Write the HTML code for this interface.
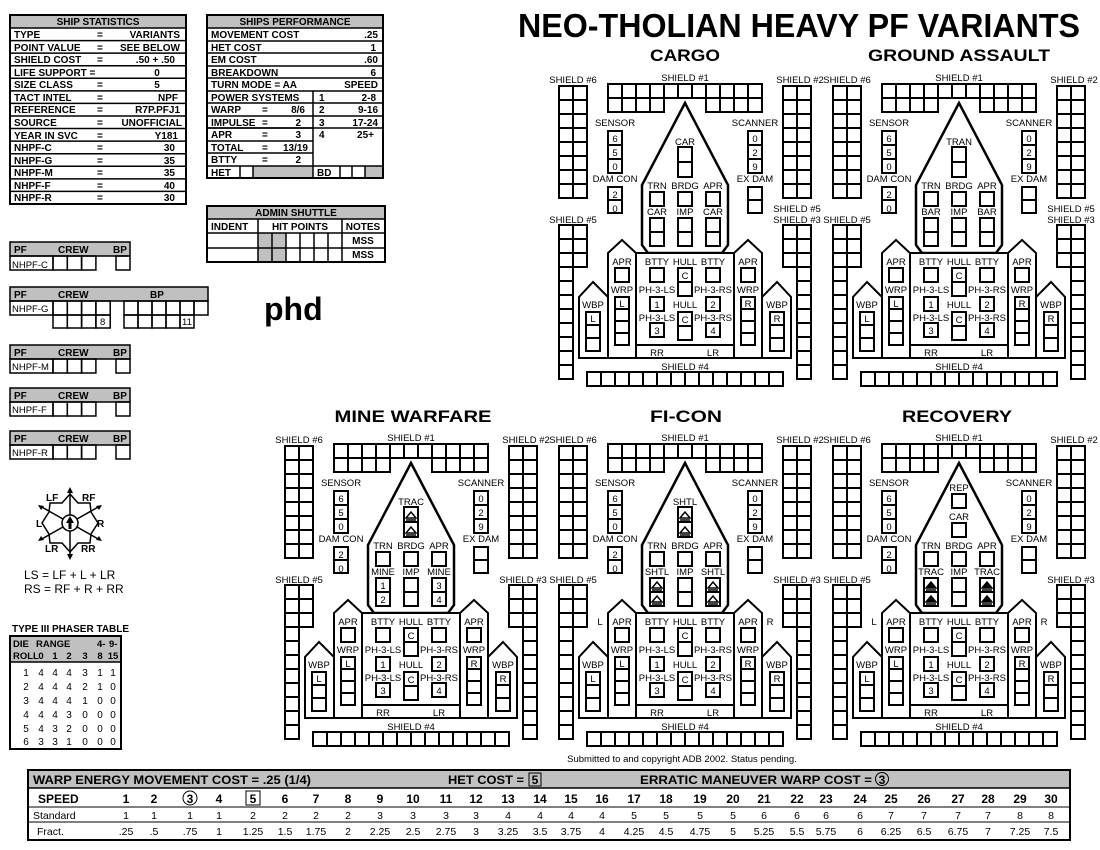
<!DOCTYPE html>
<html><head><meta charset="utf-8">
<style>
html,body{margin:0;padding:0;background:#fff;}
svg{display:block;font-family:"Liberation Sans",sans-serif;}
</style></head><body>
<svg id="s" width="1100" height="850" viewBox="0 0 1100 850" xmlns="http://www.w3.org/2000/svg">
<rect width="1100" height="850" fill="#fff"/>
<g id="tables" font-size="10" font-weight="bold">
<rect x="10" y="15" width="176" height="13" fill="#c0c0c0"/>
<g id="ssl" stroke="#000" stroke-width="1.5"></g>
<text x="98" y="25" text-anchor="middle">SHIP STATISTICS</text>
<g>
<text x="14" y="38">TYPE</text><text x="97" y="38">=</text><text x="180" y="38" text-anchor="end">VARIANTS</text>
<text x="14" y="51">POINT VALUE</text><text x="97" y="51">=</text><text x="180" y="51" text-anchor="end">SEE BELOW</text>
<text x="14" y="63">SHIELD COST</text><text x="97" y="63">=</text><text x="175" y="63" text-anchor="end">.50 + .50</text>
<text x="14" y="76">LIFE SUPPORT =</text><text x="157" y="76" text-anchor="middle">0</text>
<text x="14" y="88">SIZE CLASS</text><text x="97" y="88">=</text><text x="157" y="88" text-anchor="middle">5</text>
<text x="14" y="101">TACT INTEL</text><text x="97" y="101">=</text><text x="178" y="101" text-anchor="end">NPF</text>
<text x="14" y="113">REFERENCE</text><text x="97" y="113">=</text><text x="180" y="113" text-anchor="end">R7P.PFJ1</text>
<text x="14" y="126">SOURCE</text><text x="97" y="126">=</text><text x="182" y="126" text-anchor="end">UNOFFICIAL</text>
<text x="14" y="139">YEAR IN SVC</text><text x="97" y="139">=</text><text x="178" y="139" text-anchor="end">Y181</text>
<text x="14" y="151">NHPF-C</text><text x="97" y="151">=</text><text x="175" y="151" text-anchor="end">30</text>
<text x="14" y="164">NHPF-G</text><text x="97" y="164">=</text><text x="175" y="164" text-anchor="end">35</text>
<text x="14" y="176">NHPF-M</text><text x="97" y="176">=</text><text x="175" y="176" text-anchor="end">35</text>
<text x="14" y="189">NHPF-F</text><text x="97" y="189">=</text><text x="175" y="189" text-anchor="end">40</text>
<text x="14" y="201">NHPF-R</text><text x="97" y="201">=</text><text x="175" y="201" text-anchor="end">30</text>
</g>
<rect x="207" y="15" width="176" height="13" fill="#c0c0c0"/>
<rect x="253" y="166" width="60" height="12" fill="#c0c0c0"/>
<rect x="365" y="166" width="18" height="12" fill="#c0c0c0"/>
<g id="spl" stroke="#000" stroke-width="1.5"></g>
<text x="295" y="25" text-anchor="middle">SHIPS PERFORMANCE</text>
<text x="211" y="38">MOVEMENT COST</text><text x="378" y="38" text-anchor="end">.25</text>
<text x="211" y="51">HET COST</text><text x="376" y="51" text-anchor="end">1</text>
<text x="211" y="63">EM COST</text><text x="378" y="63" text-anchor="end">.60</text>
<text x="211" y="76">BREAKDOWN</text><text x="376" y="76" text-anchor="end">6</text>
<text x="211" y="88">TURN MODE = AA</text><text x="378" y="88" text-anchor="end">SPEED</text>
<text x="211" y="101">POWER SYSTEMS</text><text x="319" y="101">1</text><text x="376" y="101" text-anchor="end">2-8</text>
<text x="211" y="113">WARP</text><text x="262" y="113">=</text><text x="305" y="113" text-anchor="end">8/6</text><text x="319" y="113">2</text><text x="378" y="113" text-anchor="end">9-16</text>
<text x="211" y="126">IMPULSE</text><text x="262" y="126">=</text><text x="301" y="126" text-anchor="end">2</text><text x="319" y="126">3</text><text x="378" y="126" text-anchor="end">17-24</text>
<text x="211" y="138">APR</text><text x="262" y="138">=</text><text x="301" y="138" text-anchor="end">3</text><text x="319" y="138">4</text><text x="374" y="138" text-anchor="end">25+</text>
<text x="211" y="151">TOTAL</text><text x="262" y="151">=</text><text x="308" y="151" text-anchor="end">13/19</text>
<text x="211" y="163">BTTY</text><text x="262" y="163">=</text><text x="301" y="163" text-anchor="end">2</text>
<text x="211" y="176">HET</text><text x="317" y="176">BD</text>
<rect x="207" y="206" width="178" height="13" fill="#c0c0c0"/>
<rect x="258" y="233" width="28" height="29" fill="#c0c0c0"/>
<g id="asl" stroke="#000" stroke-width="1.5"></g>
<text x="296" y="216" text-anchor="middle">ADMIN SHUTTLE</text>
<text x="211" y="230">INDENT</text><text x="300" y="230" text-anchor="middle">HIT POINTS</text><text x="363" y="230" text-anchor="middle">NOTES</text>
<text x="363" y="244" text-anchor="middle">MSS</text><text x="363" y="258" text-anchor="middle">MSS</text>
<g id="pfl"></g>
<text x="14" y="253">PF</text><text x="58" y="253">CREW</text><text x="113" y="253">BP</text>
<text x="14" y="298">PF</text><text x="58" y="298">CREW</text><text x="150" y="298">BP</text>
<text x="14" y="356">PF</text><text x="58" y="356">CREW</text><text x="113" y="356">BP</text>
<text x="14" y="399">PF</text><text x="58" y="399">CREW</text><text x="113" y="399">BP</text>
<text x="14" y="442">PF</text><text x="58" y="442">CREW</text><text x="113" y="442">BP</text>
<g font-weight="normal" font-size="9.5">
<text x="12" y="268">NHPF-C</text><text x="12" y="312">NHPF-G</text><text x="12" y="370">NHPF-M</text><text x="12" y="413">NHPF-F</text><text x="12" y="456">NHPF-R</text>
<text x="100" y="325">8</text><text x="182" y="325">11</text>
</g>
</g>
<text x="264" y="320" font-size="32" font-weight="bold">phd</text>

<g stroke="#000" stroke-width="1.5" fill="none">
<polygon points="70,494 78,503 90,503 91,512 98,523 91,534 90,543 78,543 70,552 62,543 50,543 49,534 42,523 49,512 50,503 62,503"/>
<line x1="70" y1="489" x2="70" y2="558"/><line x1="40" y1="506" x2="100" y2="540"/><line x1="100" y1="506" x2="40" y2="540"/>
<circle cx="70" cy="523" r="8" fill="#fff"/>
</g>
<g fill="#000"><polygon points="70,487 67,493 73,493"/><polygon points="70,560 67,554 73,554"/><polygon points="70,516 66,523 74,523"/><rect x="68.5" y="522" width="3" height="7"/>
<polygon points="102,505 96,506 99,510"/><polygon points="38,505 44,506 41,510"/><polygon points="102,541 96,540 99,536"/><polygon points="38,541 44,540 41,536"/></g>
<g font-size="10" font-weight="bold">
<text x="46" y="501">LF</text><text x="82" y="501">RF</text><text x="36" y="527">L</text><text x="97" y="527">R</text><text x="45" y="552">LR</text><text x="81" y="552">RR</text>
</g>
<text x="24" y="579" font-size="12">LS = LF + L + LR</text>
<text x="24" y="593" font-size="12">RS = RF + R + RR</text>

<text x="12" y="632" font-size="10" font-weight="bold">TYPE III PHASER TABLE</text>
<rect x="10" y="636" width="111" height="26" fill="#c0c0c0"/>
<rect x="10" y="636" width="111" height="113" fill="none" stroke="#000" stroke-width="2"/>
<line x1="10" y1="662" x2="121" y2="662" stroke="#000" stroke-width="1.5"/>
<g font-size="9.5" font-weight="bold">
<text x="13" y="647">DIE</text><text x="36" y="647">RANGE</text><text x="97" y="647">4-</text><text x="109" y="647">9-</text>
<text x="13" y="659">ROLL</text><text x="41" y="659" text-anchor="middle">0</text><text x="55" y="659" text-anchor="middle">1</text><text x="69" y="659" text-anchor="middle">2</text><text x="85" y="659" text-anchor="middle">3</text><text x="100" y="659" text-anchor="middle">8</text><text x="113" y="659" text-anchor="middle">15</text>
</g>
<g font-size="10" text-anchor="middle">
<text y="676"><tspan x="26">1</tspan><tspan x="41">4</tspan><tspan x="55">4</tspan><tspan x="69">4</tspan><tspan x="85">3</tspan><tspan x="100">1</tspan><tspan x="113">1</tspan></text>
<text y="690"><tspan x="26">2</tspan><tspan x="41">4</tspan><tspan x="55">4</tspan><tspan x="69">4</tspan><tspan x="85">2</tspan><tspan x="100">1</tspan><tspan x="113">0</tspan></text>
<text y="704"><tspan x="26">3</tspan><tspan x="41">4</tspan><tspan x="55">4</tspan><tspan x="69">4</tspan><tspan x="85">1</tspan><tspan x="100">0</tspan><tspan x="113">0</tspan></text>
<text y="718"><tspan x="26">4</tspan><tspan x="41">4</tspan><tspan x="55">4</tspan><tspan x="69">3</tspan><tspan x="85">0</tspan><tspan x="100">0</tspan><tspan x="113">0</tspan></text>
<text y="732"><tspan x="26">5</tspan><tspan x="41">4</tspan><tspan x="55">3</tspan><tspan x="69">2</tspan><tspan x="85">0</tspan><tspan x="100">0</tspan><tspan x="113">0</tspan></text>
<text y="745"><tspan x="26">6</tspan><tspan x="41">3</tspan><tspan x="55">3</tspan><tspan x="69">1</tspan><tspan x="85">0</tspan><tspan x="100">0</tspan><tspan x="113">0</tspan></text>
</g>

<text x="799" y="37" text-anchor="middle" font-size="33" font-weight="bold" textLength="562" lengthAdjust="spacingAndGlyphs">NEO-THOLIAN HEAVY PF VARIANTS</text>
<g font-size="17" font-weight="bold" text-anchor="middle">
<text x="685" y="61" textLength="70" lengthAdjust="spacingAndGlyphs">CARGO</text>
<text x="959" y="61" textLength="182" lengthAdjust="spacingAndGlyphs">GROUND ASSAULT</text>
<text x="413" y="422" textLength="157" lengthAdjust="spacingAndGlyphs">MINE WARFARE</text>
<text x="686" y="422" textLength="72" lengthAdjust="spacingAndGlyphs">FI-CON</text>
<text x="957" y="422" textLength="110" lengthAdjust="spacingAndGlyphs">RECOVERY</text>
</g>

<g id="ship0" transform="translate(0,0)" font-size="9.5">
<g id="common" text-anchor="middle">
<text x="573" y="83">SHIELD #6</text><text x="685" y="81">SHIELD #1</text><text x="800" y="83">SHIELD #2</text>
<text x="573" y="223">SHIELD #5</text><text x="797" y="223">SHIELD #3</text><text x="685" y="370">SHIELD #4</text>
<text x="615" y="126">SENSOR</text><text x="615" y="182">DAM CON</text><text x="755" y="126">SCANNER</text><text x="755" y="182">EX DAM</text>
<text x="615" y="142">6</text><text x="615" y="156">5</text><text x="615" y="170">0</text>
<text x="615" y="198">2</text><text x="615" y="212">0</text>
<text x="755" y="142">0</text><text x="755" y="156">2</text><text x="755" y="170">9</text>
<text x="657" y="189">TRN</text><text x="685" y="189">BRDG</text><text x="713" y="189">APR</text>
<text x="657" y="265">BTTY</text><text x="685" y="265">HULL</text><text x="713" y="265">BTTY</text><text x="685" y="279">C</text>
<text x="657" y="293">PH-3-LS</text><text x="713" y="293">PH-3-RS</text><text x="657" y="308">1</text><text x="713" y="308">2</text>
<text x="685" y="308">HULL</text><text x="685" y="323">C</text>
<text x="657" y="321">PH-3-LS</text><text x="713" y="321">PH-3-RS</text><text x="657" y="334">3</text><text x="713" y="334">4</text>
<text x="657" y="356">RR</text><text x="713" y="356">LR</text>
<text x="622" y="265">APR</text><text x="748" y="265">APR</text><text x="622" y="293">WRP</text><text x="748" y="293">WRP</text>
<text x="622" y="307">L</text><text x="748" y="307">R</text>
<text x="593" y="308">WBP</text><text x="777" y="308">WBP</text><text x="593" y="322">L</text><text x="777" y="322">R</text>
</g>
<g text-anchor="middle"><text x="797" y="212">SHIELD #5</text><text x="685" y="145">CAR</text><text x="657" y="215">CAR</text><text x="685" y="215">IMP</text><text x="713" y="215">CAR</text></g>
</g>
<g id="ship1" transform="translate(274,0)" font-size="9.5" text-anchor="middle">
<text x="797" y="212">SHIELD #5</text><text x="685" y="145">TRAN</text><text x="657" y="215">BAR</text><text x="685" y="215">IMP</text><text x="713" y="215">BAR</text>
</g>
<g id="ship2" transform="translate(-274,360)" font-size="9.5" text-anchor="middle">
<text x="685" y="145">TRAC</text><text x="657" y="215">MINE</text><text x="685" y="215">IMP</text><text x="713" y="215">MINE</text>
<text x="657" y="229">1</text><text x="657" y="243">2</text><text x="713" y="229">3</text><text x="713" y="243">4</text>
</g>
<g id="ship3" transform="translate(0,360)" font-size="9.5" text-anchor="middle">
<text x="685" y="145">SHTL</text><text x="657" y="215">SHTL</text><text x="685" y="215">IMP</text><text x="713" y="215">SHTL</text>
<text x="600" y="265">L</text><text x="770" y="265">R</text>
</g>
<g id="ship4" transform="translate(274,360)" font-size="9.5" text-anchor="middle">
<text x="685" y="131">REP</text><text x="685" y="160">CAR</text><text x="657" y="215">TRAC</text><text x="685" y="215">IMP</text><text x="713" y="215">TRAC</text>
<text x="600" y="265">L</text><text x="770" y="265">R</text>
</g>

<text x="682" y="762" font-size="9.5" text-anchor="middle">Submitted to and copyright ADB 2002. Status pending.</text>

<rect x="28" y="770" width="1042" height="18" fill="#c0c0c0"/>
<g id="btl" stroke="#000"></g>
<g font-size="12" font-weight="bold">
<text x="33" y="784" textLength="278" lengthAdjust="spacingAndGlyphs">WARP ENERGY MOVEMENT COST = .25  (1/4)</text>
<text x="448" y="784" textLength="76" lengthAdjust="spacingAndGlyphs">HET COST = </text><rect x="529" y="773" width="12" height="13" fill="none" stroke="#000"/><text x="535" y="784" text-anchor="middle">5</text>
<text x="640" y="784" textLength="232" lengthAdjust="spacingAndGlyphs">ERRATIC MANEUVER WARP COST =</text><circle cx="882" cy="779" r="6.5" fill="none" stroke="#000"/><text x="882" y="784" text-anchor="middle">3</text>
<text x="38" y="803">SPEED</text>
</g>
<g font-size="12" font-weight="bold" text-anchor="middle"><text y="803"><tspan x="126">1</tspan><tspan x="154">2</tspan><tspan x="190">3</tspan><tspan x="219">4</tspan><tspan x="253">5</tspan><tspan x="285">6</tspan><tspan x="316">7</tspan><tspan x="348">8</tspan><tspan x="380">9</tspan><tspan x="413">10</tspan><tspan x="446">11</tspan><tspan x="476">12</tspan><tspan x="508">13</tspan><tspan x="540">14</tspan><tspan x="571">15</tspan><tspan x="602">16</tspan><tspan x="634">17</tspan><tspan x="666">18</tspan><tspan x="700">19</tspan><tspan x="733">20</tspan><tspan x="764">21</tspan><tspan x="797">22</tspan><tspan x="826">23</tspan><tspan x="860">24</tspan><tspan x="891">25</tspan><tspan x="924">26</tspan><tspan x="958">27</tspan><tspan x="988">28</tspan><tspan x="1020">29</tspan><tspan x="1051">30</tspan></text></g>
<circle cx="190" cy="798" r="7" fill="none" stroke="#000"/><rect x="246" y="791" width="14" height="14" fill="none" stroke="#000"/>
<g font-size="10.5" text-anchor="middle">
<text x="33" y="819" text-anchor="start">Standard</text>
<text y="819"><tspan x="126">1</tspan><tspan x="154">1</tspan><tspan x="190">1</tspan><tspan x="219">1</tspan><tspan x="253">2</tspan><tspan x="285">2</tspan><tspan x="316">2</tspan><tspan x="348">2</tspan><tspan x="380">3</tspan><tspan x="413">3</tspan><tspan x="446">3</tspan><tspan x="476">3</tspan><tspan x="508">4</tspan><tspan x="540">4</tspan><tspan x="571">4</tspan><tspan x="602">4</tspan><tspan x="634">5</tspan><tspan x="666">5</tspan><tspan x="700">5</tspan><tspan x="733">5</tspan><tspan x="764">6</tspan><tspan x="797">6</tspan><tspan x="826">6</tspan><tspan x="860">6</tspan><tspan x="891">7</tspan><tspan x="924">7</tspan><tspan x="958">7</tspan><tspan x="988">7</tspan><tspan x="1020">8</tspan><tspan x="1051">8</tspan></text>
<text x="37" y="835" text-anchor="start">Fract.</text>
<text y="835"><tspan x="126">.25</tspan><tspan x="154">.5</tspan><tspan x="190">.75</tspan><tspan x="219">1</tspan><tspan x="253">1.25</tspan><tspan x="285">1.5</tspan><tspan x="316">1.75</tspan><tspan x="348">2</tspan><tspan x="380">2.25</tspan><tspan x="413">2.5</tspan><tspan x="446">2.75</tspan><tspan x="476">3</tspan><tspan x="508">3.25</tspan><tspan x="540">3.5</tspan><tspan x="571">3.75</tspan><tspan x="602">4</tspan><tspan x="634">4.25</tspan><tspan x="666">4.5</tspan><tspan x="700">4.75</tspan><tspan x="733">5</tspan><tspan x="764">5.25</tspan><tspan x="797">5.5</tspan><tspan x="826">5.75</tspan><tspan x="860">6</tspan><tspan x="891">6.25</tspan><tspan x="924">6.5</tspan><tspan x="958">6.75</tspan><tspan x="988">7</tspan><tspan x="1020">7.25</tspan><tspan x="1051">7.5</tspan></text>
</g>
</svg>
<script>
(function(){
var NS="http://www.w3.org/2000/svg";
function el(p,t,a){var e=document.createElementNS(NS,t);for(var k in a)e.setAttribute(k,a[k]);p.appendChild(e);return e;}
function L(p,x1,y1,x2,y2,w){el(p,"line",{x1:x1,y1:y1,x2:x2,y2:y2,stroke:"#000","stroke-width":w||1.5});}
function B(p,x,y,w,h,sw,f){el(p,"rect",{x:x,y:y,width:w,height:h,fill:f||"none",stroke:"#000","stroke-width":sw||1.5});}
var g=document.getElementById("ssl");
B(g,10,15,176,189,2);
for(var i=0;i<14;i++){var y=28+12.57*i;L(g,10,y,186,y);}
g=document.getElementById("spl");
B(g,207,15,176,163,2);
[28,41,53,66,78,91,103,116,128,141,153,166].forEach(function(y){L(g,207,y,y>=128&&y<=153?313:383,y);});
L(g,207,128,383,128);L(g,313,91,313,178);
L(g,240,166,240,178);L(g,253,166,253,178);L(g,340,166,340,178);L(g,352,166,352,178);L(g,365,166,365,178);
g=document.getElementById("asl");
B(g,207,206,178,56,2);
[219,233,248].forEach(function(y){L(g,207,y,385,y);});
L(g,258,219,258,262);L(g,342,219,342,262);
for(i=1;i<6;i++){L(g,258+14*i,233,258+14*i,262);}
g=document.getElementById("pfl");
function pf(y,big){
 var w=big?198:120;
 B(g,10,y,w,14,1.5,"#c0c0c0");
 B(g,10,y+14,43,14,1.5);
 var n=big?4:3;
 for(var i=0;i<n;i++)B(g,53+14.3*i,y+14,14.3,14,1.5);
 if(big){for(i=0;i<6;i++)B(g,124+14*i,y+14,14,14,1.5);
  for(i=0;i<4;i++)B(g,53+14.3*i,y+28,14.3,13,1.5);
  for(i=0;i<5;i++)B(g,124+14*i,y+28,14,13,1.5);}
 else B(g,116,y+14,14,14,1.5);
}
pf(242,0);pf(287,1);pf(345,0);pf(388,0);pf(431,0);
g=document.getElementById("btl");
B(g,28,770,1042,70,2);
L(g,28,788,1070,788);L(g,28,807,1070,807,1);L(g,28,822,1070,822,1);
function arrowO(p,cx,cy,fill){
 el(p,"polygon",{points:(cx-5)+","+(cy+2)+" "+cx+","+(cy-4)+" "+(cx+5)+","+(cy+2),fill:fill?"#000":"none",stroke:"#000","stroke-width":1.5});
 L(p,cx-5,cy+4,cx+5,cy+4,1.5);
}
function ship(id,v){
 var p=document.getElementById(id);
 var s=el(p,"g",{});
 p.insertBefore(s,p.firstChild);
 var i,r,c;
 for(r=0;r<8;r++)for(c=0;c<2;c++){B(s,559+14*c,86+14*r,14,14,2);B(s,783+14*c,86+14*r,14,14,2);}
 for(i=0;i<11;i++){B(s,608+14*i,84,14,14,2);if(i<4||i>6)B(s,608+14*i,98,14,14,2);}
 for(r=0;r<11;r++){B(s,559,225+14*r,14,14,2);B(s,797,225+14*r,14,14,2);if(r<3){B(s,573,225+14*r,14,14,2);B(s,783,225+14*r,14,14,2);}}
 for(i=0;i<14;i++)B(s,587+14*i,372,14,14,2);
 for(i=0;i<3;i++){B(s,608,131+14*i,14,14,2);B(s,748,131+14*i,14,14,2);}
 for(i=0;i<2;i++){B(s,608,187+13*i,14,13,2);B(s,748,187+13*i,14,13,2);}
 el(s,"polygon",{points:"685,103 728,185 728,245 722,253 648,253 642,245 642,185",fill:"none",stroke:"#000","stroke-width":2.5});
 B(s,636,253,98,92,2,"#fff");
 el(s,"polygon",{points:"608,358 608,253 622,240 636,253 636,358",fill:"#fff",stroke:"#000","stroke-width":2});
 el(s,"polygon",{points:"734,358 734,253 748,240 762,253 762,358",fill:"#fff",stroke:"#000","stroke-width":2});
 el(s,"polygon",{points:"579,358 579,297 593,282 608,297 608,358",fill:"#fff",stroke:"#000","stroke-width":2});
 el(s,"polygon",{points:"762,358 762,297 777,282 791,297 791,358",fill:"#fff",stroke:"#000","stroke-width":2});
 L(s,636,358,734,358,2);
 if(v==4){B(s,678,134,14,14,2);B(s,678,163,14,14,2);}
 else{B(s,678,147,14,15,2);B(s,678,162,14,15,2);}
 [650,678,706].forEach(function(x){B(s,x,192,14,14,2);B(s,x,218,14,14,2);B(s,x,232,14,14,2);});
 B(s,650,268,14,14,2);B(s,706,268,14,14,2);B(s,678,268,14,14,2);B(s,678,282,14,14,2);
 B(s,650,297,14,14,2);B(s,706,297,14,14,2);B(s,678,312,14,14,2);B(s,678,326,14,14,2);
 B(s,650,323,14,14,2);B(s,706,323,14,14,2);
 B(s,615,268,14,14,2);B(s,741,268,14,14,2);
 for(i=0;i<4;i++){B(s,615,297+12*i,14,12,2);B(s,741,297+12*i,14,12,2);}
 for(i=0;i<3;i++){B(s,586,312+13*i,14,13,2);B(s,770,312+13*i,14,13,2);}
 if(v==2){arrowO(s,685,156,0);arrowO(s,685,171,0);}
 if(v==3){arrowO(s,685,156,0);arrowO(s,685,171,0);[657,713].forEach(function(x){arrowO(s,x,226,0);arrowO(s,x,240,0);});}
 if(v==4){[657,713].forEach(function(x){arrowO(s,x,226,1);arrowO(s,x,240,1);});}
}
ship("ship0",0);
var com=document.getElementById("common");
["ship1","ship2","ship3","ship4"].forEach(function(id){var c=com.cloneNode(true);c.removeAttribute("id");document.getElementById(id).appendChild(c);});
ship("ship1",1);ship("ship2",2);ship("ship3",3);ship("ship4",4);
})();
</script>
</body></html>
